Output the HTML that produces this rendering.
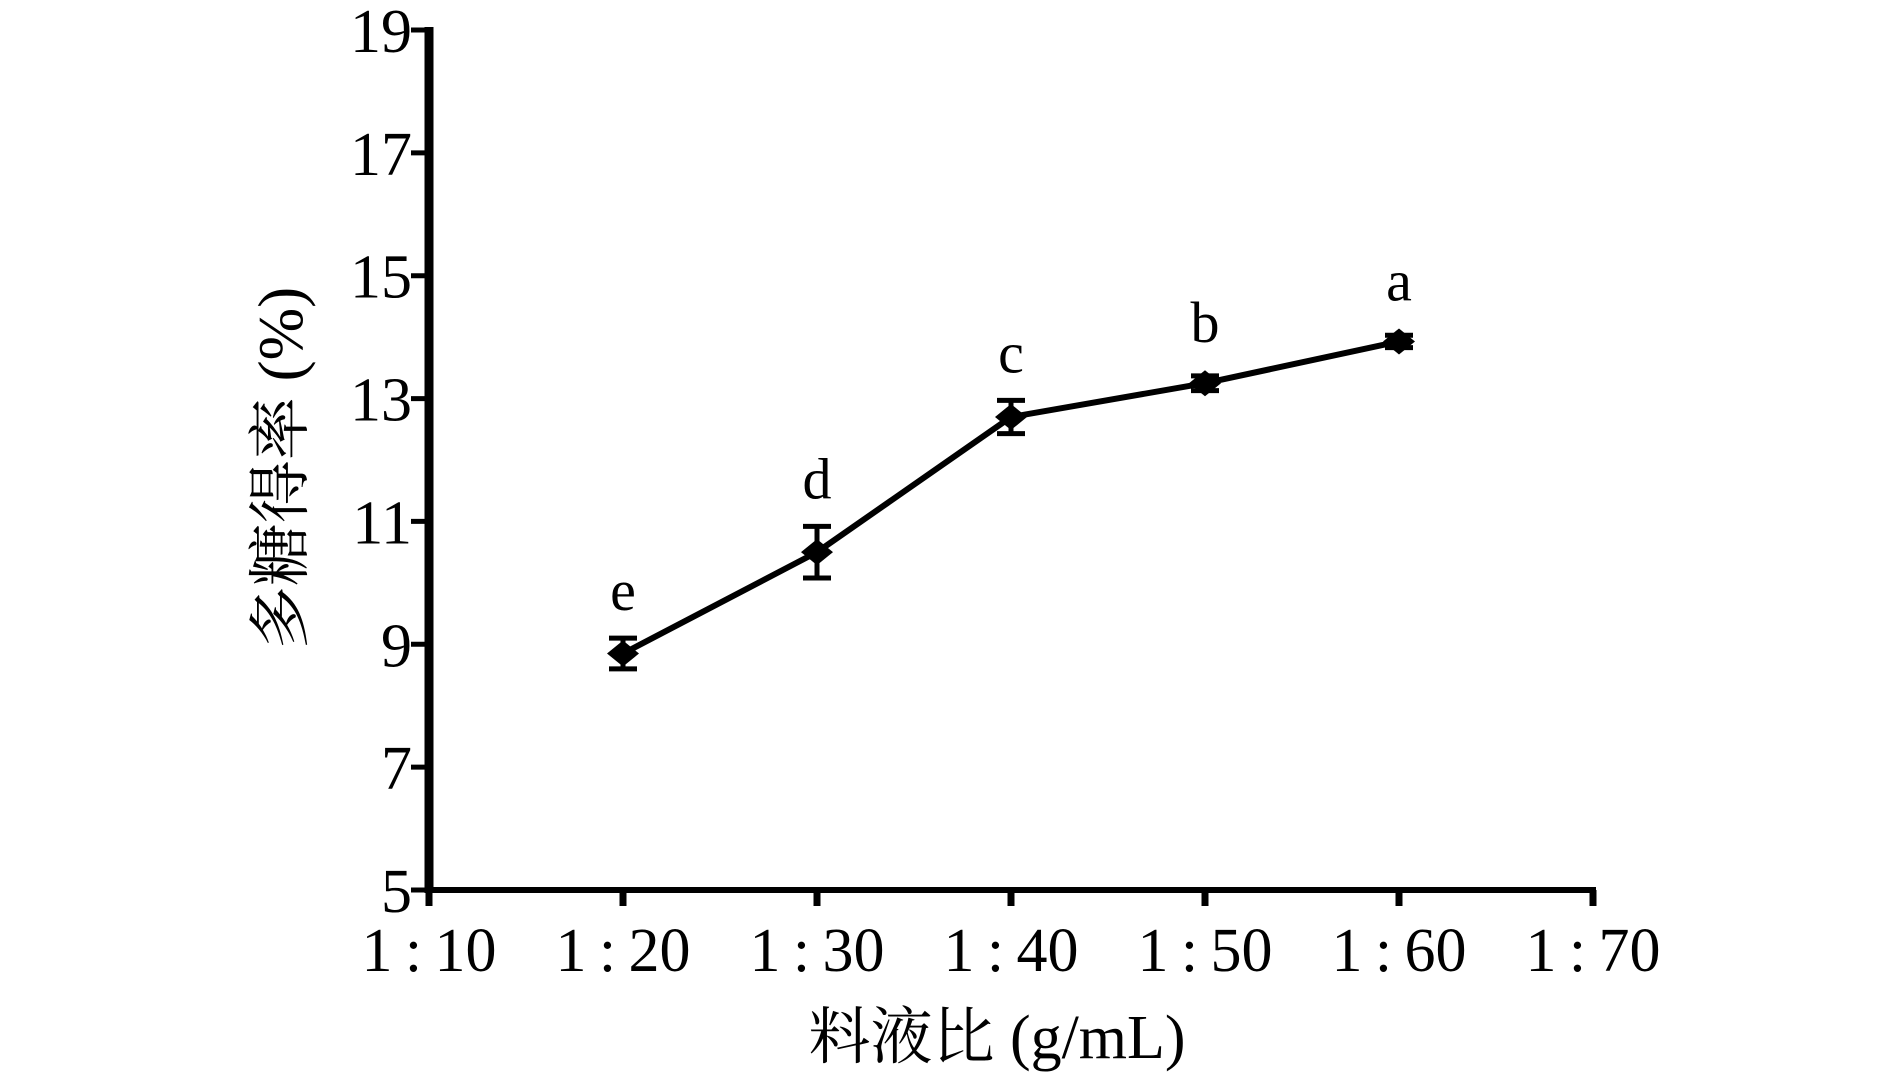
<!DOCTYPE html>
<html><head><meta charset="utf-8"><style>
html,body{margin:0;padding:0;background:#fff}
svg text{font-family:"Liberation Serif","Noto Serif CJK SC","Noto Sans CJK SC",serif;fill:#000}
</style></head><body>
<svg width="1890" height="1074" viewBox="0 0 1890 1074" xmlns="http://www.w3.org/2000/svg">
<g id="g"></g>
</svg>
<script>
const categories=["1:20","1:30","1:40","1:50","1:60"];
const values=[8.85,10.5,12.7,13.25,13.93];
const errors=[0.25,0.42,0.27,0.12,0.1];
const sigLetters=["e","d","c","b","a"];
const xTickLabels=["1:10","1:20","1:30","1:40","1:50","1:60","1:70"];
const yTicks=[5,7,9,11,13,15,17,19];

const NS="http://www.w3.org/2000/svg";
const g=document.getElementById('g');
const X0=429,DX=194,Y0=890,YMIN=5,YMAX=19,YTOP=30;
function xs(i){return X0+DX*i;}
function ys(v){return Y0-(v-YMIN)/(YMAX-YMIN)*(Y0-YTOP);}
function el(tag,attrs,parent){const e=document.createElementNS(NS,tag);for(const k in attrs)e.setAttribute(k,attrs[k]);(parent||g).appendChild(e);return e;}

let e;
e=el('line',{x1:X0,y1:YTOP-3,x2:X0,y2:Y0+3,stroke:'#000','stroke-width':9});


e=el('line',{x1:X0-4,y1:Y0,x2:xs(6)+3,y2:Y0,stroke:'#000','stroke-width':6});



yTicks.forEach(v=>{
  const t=el('line',{x1:X0-18,y1:ys(v),x2:X0,y2:ys(v),stroke:'#000','stroke-width':5});
  
  
  const l=el('text',{x:412,y:ys(v)+22,'text-anchor':'end','font-size':62});
  l.textContent=v;
  
  
});
xTickLabels.forEach((s,i)=>{
  const t=el('line',{x1:xs(i),y1:Y0,x2:xs(i),y2:Y0+16,stroke:'#000','stroke-width':7});
  
  
  const p=s.split(':');
  const l=el('text',{x:xs(i),y:971,'text-anchor':'middle','font-size':62});
  l.textContent=p[0]+'\u2009:\u2009'+p[1];
  
  
});

const pts=values.map((v,i)=>xs(i+1)+','+ys(v)).join(' ');
e=el('polyline',{points:pts,fill:'none',stroke:'#000','stroke-width':6,'stroke-linejoin':'round'});



values.forEach((v,i)=>{
  const x=xs(i+1),y=ys(v),t=ys(v+errors[i]),b=ys(v-errors[i]);
  const eb=el('path',{d:`M${x-14},${t}H${x+14}M${x},${t}V${b}M${x-14},${b}H${x+14}`,stroke:'#000','stroke-width':5,fill:'none'});
  
  
  const m=el('path',{d:`M${x-16},${y}L${x},${y-13}L${x+16},${y}L${x},${y+13}Z`,fill:'#000'});
  
  
  const l=el('text',{x:x,y:Math.min(t,y-13)-28,'text-anchor':'middle','font-size':58});
  l.textContent=sigLetters[i];
  
  
});

e=el('text',{x:997,y:1058,'text-anchor':'middle','font-size':62});
e.textContent='料液比 (g/mL)';


e=el('text',{x:0,y:0,'text-anchor':'middle','font-size':63,transform:'translate(302,468) rotate(-90)'});
e.textContent='多糖得率 (%)';


</script>
</body></html>
